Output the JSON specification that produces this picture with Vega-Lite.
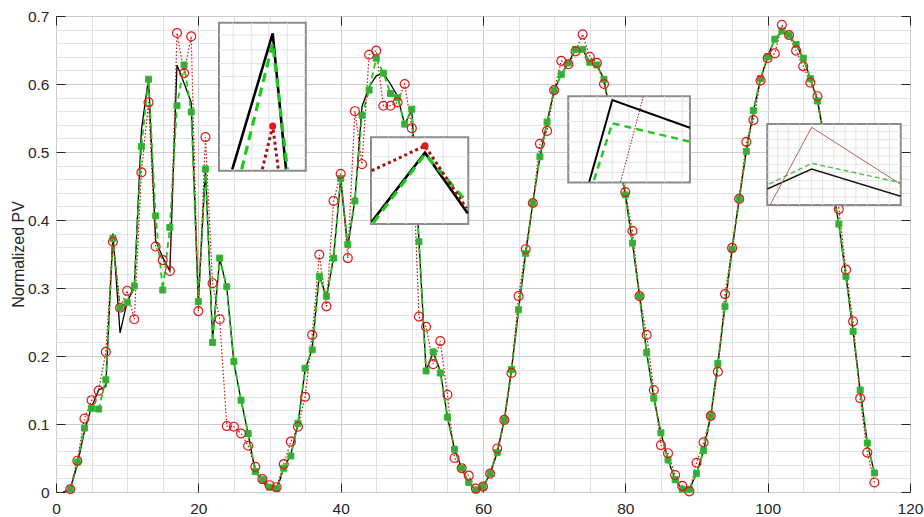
{
  "$schema": "https://vega.github.io/schema/vega-lite/v6.json",
  "width": 854,
  "height": 476,
  "autosize": "none",
  "padding": {"left": 56, "top": 16, "right": 14, "bottom": 25},
  "background": "white",
  "config": {
    "view": {"stroke": "#262626", "strokeWidth": 1},
    "font": "Liberation Sans",
    "axis": {
      "labelFont": "Liberation Sans",
      "labelFontSize": 15.5,
      "labelColor": "#262626",
      "labelFlush": false,
      "labelOverlap": false,
      "titleFont": "Liberation Sans",
      "titleFontSize": 16,
      "titleFontWeight": "normal",
      "titleColor": "#262626"
    }
  },
  "datasets": {
    "pv": [
      {"x": 1, "a": 0.000, "g": null, "r": null},
      {"x": 2, "a": 0.004, "g": 0.004, "r": 0.004},
      {"x": 3, "a": 0.040, "g": 0.044, "r": 0.046},
      {"x": 4, "a": 0.090, "g": 0.094, "r": 0.108},
      {"x": 5, "a": 0.125, "g": 0.123, "r": 0.135},
      {"x": 6, "a": 0.150, "g": 0.122, "r": 0.149},
      {"x": 7, "a": 0.155, "g": 0.165, "r": 0.206},
      {"x": 8, "a": 0.380, "g": 0.373, "r": 0.368},
      {"x": 9, "a": 0.234, "g": 0.271, "r": 0.271},
      {"x": 10, "a": 0.280, "g": 0.279, "r": 0.296},
      {"x": 11, "a": 0.300, "g": 0.303, "r": 0.254},
      {"x": 12, "a": 0.532, "g": 0.508, "r": 0.470},
      {"x": 13, "a": 0.609, "g": 0.607, "r": 0.573},
      {"x": 14, "a": 0.370, "g": 0.406, "r": 0.361},
      {"x": 15, "a": 0.345, "g": 0.297, "r": 0.341},
      {"x": 16, "a": 0.325, "g": 0.389, "r": 0.325},
      {"x": 17, "a": 0.628, "g": 0.568, "r": 0.675},
      {"x": 18, "a": 0.601, "g": 0.628, "r": 0.616},
      {"x": 19, "a": 0.573, "g": 0.559, "r": 0.670},
      {"x": 20, "a": 0.280, "g": 0.280, "r": 0.266},
      {"x": 21, "a": 0.475, "g": 0.475, "r": 0.522},
      {"x": 22, "a": 0.225, "g": 0.220, "r": 0.307},
      {"x": 23, "a": 0.344, "g": 0.344, "r": 0.254},
      {"x": 24, "a": 0.300, "g": 0.302, "r": 0.097},
      {"x": 25, "a": 0.190, "g": 0.192, "r": 0.096},
      {"x": 26, "a": 0.135, "g": 0.135, "r": 0.086},
      {"x": 27, "a": 0.086, "g": 0.086, "r": 0.068},
      {"x": 28, "a": 0.030, "g": 0.030, "r": 0.037},
      {"x": 29, "a": 0.016, "g": 0.018, "r": 0.019},
      {"x": 30, "a": 0.004, "g": 0.007, "r": 0.010},
      {"x": 31, "a": 0.003, "g": 0.005, "r": 0.007},
      {"x": 32, "a": 0.035, "g": 0.035, "r": 0.041},
      {"x": 33, "a": 0.055, "g": 0.053, "r": 0.074},
      {"x": 34, "a": 0.100, "g": 0.101, "r": 0.096},
      {"x": 35, "a": 0.180, "g": 0.182, "r": 0.140},
      {"x": 36, "a": 0.210, "g": 0.209, "r": 0.231},
      {"x": 37, "a": 0.320, "g": 0.317, "r": 0.349},
      {"x": 38, "a": 0.285, "g": 0.288, "r": 0.273},
      {"x": 39, "a": 0.345, "g": 0.344, "r": 0.428},
      {"x": 40, "a": 0.460, "g": 0.461, "r": 0.468},
      {"x": 41, "a": 0.360, "g": 0.364, "r": 0.344},
      {"x": 42, "a": 0.430, "g": 0.428, "r": 0.560},
      {"x": 43, "a": 0.567, "g": 0.554, "r": 0.482},
      {"x": 44, "a": 0.596, "g": 0.591, "r": 0.643},
      {"x": 45, "a": 0.612, "g": 0.638, "r": 0.649},
      {"x": 46, "a": 0.616, "g": 0.616, "r": 0.568},
      {"x": 47, "a": 0.600, "g": 0.586, "r": 0.568},
      {"x": 48, "a": 0.582, "g": 0.580, "r": 0.573},
      {"x": 49, "a": 0.540, "g": 0.541, "r": 0.600},
      {"x": 50, "a": 0.562, "g": 0.563, "r": 0.535},
      {"x": 51, "a": 0.370, "g": 0.368, "r": 0.258},
      {"x": 52, "a": 0.178, "g": 0.178, "r": 0.243},
      {"x": 53, "a": 0.206, "g": 0.206, "r": 0.188},
      {"x": 54, "a": 0.178, "g": 0.175, "r": 0.222},
      {"x": 55, "a": 0.110, "g": 0.110, "r": 0.143},
      {"x": 56, "a": 0.063, "g": 0.063, "r": 0.050},
      {"x": 57, "a": 0.035, "g": 0.035, "r": 0.035},
      {"x": 58, "a": 0.013, "g": 0.014, "r": 0.024},
      {"x": 59, "a": 0.002, "g": 0.003, "r": 0.005},
      {"x": 60, "a": 0.007, "g": 0.008, "r": 0.008},
      {"x": 61, "a": 0.027, "g": 0.027, "r": 0.027},
      {"x": 62, "a": 0.058, "g": 0.058, "r": 0.064},
      {"x": 63, "a": 0.106, "g": 0.106, "r": 0.106},
      {"x": 64, "a": 0.180, "g": 0.180, "r": 0.175},
      {"x": 65, "a": 0.268, "g": 0.268, "r": 0.288},
      {"x": 66, "a": 0.351, "g": 0.351, "r": 0.357},
      {"x": 67, "a": 0.425, "g": 0.425, "r": 0.425},
      {"x": 68, "a": 0.493, "g": 0.493, "r": 0.512},
      {"x": 69, "a": 0.544, "g": 0.544, "r": 0.531},
      {"x": 70, "a": 0.591, "g": 0.591, "r": 0.591},
      {"x": 71, "a": 0.614, "g": 0.614, "r": 0.634},
      {"x": 72, "a": 0.631, "g": 0.631, "r": 0.629},
      {"x": 73, "a": 0.651, "g": 0.651, "r": 0.648},
      {"x": 74, "a": 0.651, "g": 0.651, "r": 0.673},
      {"x": 75, "a": 0.632, "g": 0.632, "r": 0.640},
      {"x": 76, "a": 0.628, "g": 0.628, "r": 0.631},
      {"x": 77, "a": 0.607, "g": 0.607, "r": 0.600},
      {"x": 78, "a": 0.550, "g": 0.550, "r": 0.552},
      {"x": 79, "a": 0.492, "g": 0.492, "r": 0.495},
      {"x": 80, "a": 0.437, "g": 0.437, "r": 0.441},
      {"x": 81, "a": 0.366, "g": 0.366, "r": 0.384},
      {"x": 82, "a": 0.288, "g": 0.288, "r": 0.288},
      {"x": 83, "a": 0.205, "g": 0.205, "r": 0.231},
      {"x": 84, "a": 0.138, "g": 0.138, "r": 0.150},
      {"x": 85, "a": 0.087, "g": 0.087, "r": 0.069},
      {"x": 86, "a": 0.047, "g": 0.047, "r": 0.057},
      {"x": 87, "a": 0.018, "g": 0.018, "r": 0.025},
      {"x": 88, "a": 0.004, "g": 0.004, "r": 0.009},
      {"x": 89, "a": 0.004, "g": 0.004, "r": 0.001},
      {"x": 90, "a": 0.027, "g": 0.027, "r": 0.043},
      {"x": 91, "a": 0.061, "g": 0.061, "r": 0.073},
      {"x": 92, "a": 0.112, "g": 0.112, "r": 0.112},
      {"x": 93, "a": 0.189, "g": 0.189, "r": 0.177},
      {"x": 94, "a": 0.273, "g": 0.273, "r": 0.291},
      {"x": 95, "a": 0.357, "g": 0.357, "r": 0.359},
      {"x": 96, "a": 0.431, "g": 0.431, "r": 0.431},
      {"x": 97, "a": 0.501, "g": 0.501, "r": 0.515},
      {"x": 98, "a": 0.561, "g": 0.561, "r": 0.547},
      {"x": 99, "a": 0.608, "g": 0.608, "r": 0.605},
      {"x": 100, "a": 0.640, "g": 0.640, "r": 0.638},
      {"x": 101, "a": 0.666, "g": 0.666, "r": 0.645},
      {"x": 102, "a": 0.676, "g": 0.678, "r": 0.687},
      {"x": 103, "a": 0.672, "g": 0.672, "r": 0.672},
      {"x": 104, "a": 0.658, "g": 0.658, "r": 0.649},
      {"x": 105, "a": 0.638, "g": 0.638, "r": 0.626},
      {"x": 106, "a": 0.608, "g": 0.608, "r": 0.602},
      {"x": 107, "a": 0.575, "g": 0.575, "r": 0.582},
      {"x": 108, "a": 0.515, "g": 0.515, "r": 0.520},
      {"x": 109, "a": 0.455, "g": 0.455, "r": 0.470},
      {"x": 110, "a": 0.394, "g": 0.394, "r": 0.416},
      {"x": 111, "a": 0.317, "g": 0.317, "r": 0.327},
      {"x": 112, "a": 0.236, "g": 0.236, "r": 0.251},
      {"x": 113, "a": 0.150, "g": 0.150, "r": 0.138},
      {"x": 114, "a": 0.072, "g": 0.072, "r": 0.058},
      {"x": 115, "a": 0.028, "g": 0.028, "r": 0.014}
    ],
    "boxes": [
      {"k": "i1", "x": 22.9, "x2": 35.1, "y": 0.4725, "y2": 0.690},
      {"k": "i2", "x": 44.26, "x2": 57.93, "y": 0.394, "y2": 0.5216},
      {"k": "i3", "x": 71.98, "x2": 89.08, "y": 0.455, "y2": 0.582},
      {"k": "i4", "x": 99.94, "x2": 118.7, "y": 0.422, "y2": 0.541}
    ],
    "boxgrid": [
      {"x": 24.9, "x2": 24.9, "y": 0.4725, "y2": 0.690},
      {"x": 27.5, "x2": 27.5, "y": 0.4725, "y2": 0.690},
      {"x": 29.9, "x2": 29.9, "y": 0.4725, "y2": 0.690},
      {"x": 32.5, "x2": 32.5, "y": 0.4725, "y2": 0.690},
      {"x": 22.9, "x2": 35.1, "y": 0.491, "y2": 0.491},
      {"x": 22.9, "x2": 35.1, "y": 0.510, "y2": 0.510},
      {"x": 22.9, "x2": 35.1, "y": 0.530, "y2": 0.530},
      {"x": 22.9, "x2": 35.1, "y": 0.550, "y2": 0.550},
      {"x": 22.9, "x2": 35.1, "y": 0.571, "y2": 0.571},
      {"x": 22.9, "x2": 35.1, "y": 0.591, "y2": 0.591},
      {"x": 22.9, "x2": 35.1, "y": 0.611, "y2": 0.611},
      {"x": 22.9, "x2": 35.1, "y": 0.630, "y2": 0.630},
      {"x": 22.9, "x2": 35.1, "y": 0.650, "y2": 0.650},
      {"x": 22.9, "x2": 35.1, "y": 0.672, "y2": 0.672},
      {"x": 46.7, "x2": 46.7, "y": 0.394, "y2": 0.5216},
      {"x": 49.2, "x2": 49.2, "y": 0.394, "y2": 0.5216},
      {"x": 51.85, "x2": 51.85, "y": 0.394, "y2": 0.5216},
      {"x": 54.4, "x2": 54.4, "y": 0.394, "y2": 0.5216},
      {"x": 44.26, "x2": 57.93, "y": 0.429, "y2": 0.429},
      {"x": 44.26, "x2": 57.93, "y": 0.461, "y2": 0.461},
      {"x": 44.26, "x2": 57.93, "y": 0.493, "y2": 0.493},
      {"x": 74.0, "x2": 74.0, "y": 0.455, "y2": 0.582},
      {"x": 76.0, "x2": 76.0, "y": 0.455, "y2": 0.582},
      {"x": 78.17, "x2": 78.17, "y": 0.455, "y2": 0.582},
      {"x": 80.5, "x2": 80.5, "y": 0.455, "y2": 0.582},
      {"x": 83.0, "x2": 83.0, "y": 0.455, "y2": 0.582},
      {"x": 85.5, "x2": 85.5, "y": 0.455, "y2": 0.582},
      {"x": 88.0, "x2": 88.0, "y": 0.455, "y2": 0.582},
      {"x": 71.98, "x2": 89.08, "y": 0.470, "y2": 0.470},
      {"x": 71.98, "x2": 89.08, "y": 0.485, "y2": 0.485},
      {"x": 71.98, "x2": 89.08, "y": 0.500, "y2": 0.500},
      {"x": 71.98, "x2": 89.08, "y": 0.515, "y2": 0.515},
      {"x": 71.98, "x2": 89.08, "y": 0.530, "y2": 0.530},
      {"x": 71.98, "x2": 89.08, "y": 0.545, "y2": 0.545},
      {"x": 71.98, "x2": 89.08, "y": 0.560, "y2": 0.560},
      {"x": 71.98, "x2": 89.08, "y": 0.575, "y2": 0.575},
      {"x": 101.4, "x2": 101.4, "y": 0.422, "y2": 0.541},
      {"x": 102.9, "x2": 102.9, "y": 0.422, "y2": 0.541},
      {"x": 104.5, "x2": 104.5, "y": 0.422, "y2": 0.541},
      {"x": 106.18, "x2": 106.18, "y": 0.422, "y2": 0.541},
      {"x": 107.7, "x2": 107.7, "y": 0.422, "y2": 0.541},
      {"x": 109.3, "x2": 109.3, "y": 0.422, "y2": 0.541},
      {"x": 110.9, "x2": 110.9, "y": 0.422, "y2": 0.541},
      {"x": 112.4, "x2": 112.4, "y": 0.422, "y2": 0.541},
      {"x": 114.0, "x2": 114.0, "y": 0.422, "y2": 0.541},
      {"x": 115.6, "x2": 115.6, "y": 0.422, "y2": 0.541},
      {"x": 117.1, "x2": 117.1, "y": 0.422, "y2": 0.541},
      {"x": 99.94, "x2": 118.7, "y": 0.434, "y2": 0.434},
      {"x": 99.94, "x2": 118.7, "y": 0.446, "y2": 0.446},
      {"x": 99.94, "x2": 118.7, "y": 0.458, "y2": 0.458},
      {"x": 99.94, "x2": 118.7, "y": 0.470, "y2": 0.470},
      {"x": 99.94, "x2": 118.7, "y": 0.482, "y2": 0.482},
      {"x": 99.94, "x2": 118.7, "y": 0.494, "y2": 0.494},
      {"x": 99.94, "x2": 118.7, "y": 0.506, "y2": 0.506},
      {"x": 99.94, "x2": 118.7, "y": 0.518, "y2": 0.518},
      {"x": 99.94, "x2": 118.7, "y": 0.530, "y2": 0.530}
    ],
    "zoomlines": [
      {"k": "i1", "s": "a", "x": 24.77, "y": 0.4746},
      {"k": "i1", "s": "a", "x": 30.45, "y": 0.6745},
      {"k": "i1", "s": "a", "x": 32.32, "y": 0.4746},
      {"k": "i1", "s": "g", "x": 26.09, "y": 0.4746},
      {"k": "i1", "s": "g", "x": 30.45, "y": 0.660},
      {"k": "i1", "s": "g", "x": 32.5, "y": 0.4746},
      {"k": "i1", "s": "r", "x": 28.99, "y": 0.4746},
      {"k": "i1", "s": "r", "x": 30.45, "y": 0.538},
      {"k": "i1", "s": "r", "x": 31.24, "y": 0.4746},
      {"k": "i2", "s": "a", "x": 44.36, "y": 0.3975},
      {"k": "i2", "s": "a", "x": 51.85, "y": 0.499},
      {"k": "i2", "s": "a", "x": 57.85, "y": 0.410},
      {"k": "i2", "s": "g", "x": 44.59, "y": 0.396},
      {"k": "i2", "s": "g", "x": 51.85, "y": 0.497},
      {"k": "i2", "s": "g", "x": 57.7, "y": 0.427},
      {"k": "i2", "s": "r", "x": 44.36, "y": 0.4725},
      {"k": "i2", "s": "r", "x": 51.85, "y": 0.509},
      {"k": "i2", "s": "r", "x": 57.7, "y": 0.417},
      {"k": "i3", "s": "a", "x": 74.93, "y": 0.4563},
      {"k": "i3", "s": "a", "x": 78.17, "y": 0.5765},
      {"k": "i3", "s": "a", "x": 89.08, "y": 0.5357},
      {"k": "i3", "s": "g", "x": 75.6, "y": 0.4588},
      {"k": "i3", "s": "g", "x": 78.17, "y": 0.5422},
      {"k": "i3", "s": "g", "x": 89.08, "y": 0.5152},
      {"k": "i3", "s": "r", "x": 79.35, "y": 0.4563},
      {"k": "i3", "s": "r", "x": 82.52, "y": 0.5813},
      {"k": "i4", "s": "a", "x": 99.94, "y": 0.4456},
      {"k": "i4", "s": "a", "x": 106.18, "y": 0.475},
      {"k": "i4", "s": "a", "x": 118.69, "y": 0.4348},
      {"k": "i4", "s": "g", "x": 100.2, "y": 0.4529},
      {"k": "i4", "s": "g", "x": 106.18, "y": 0.4834},
      {"k": "i4", "s": "g", "x": 118.69, "y": 0.4549},
      {"k": "i4", "s": "r", "x": 100.4, "y": 0.4235},
      {"k": "i4", "s": "r", "x": 106.18, "y": 0.5363},
      {"k": "i4", "s": "r", "x": 118.69, "y": 0.4525}
    ],
    "zoomdots": [
      {"k": "i1", "x": 30.45, "y": 0.538},
      {"k": "i2", "x": 51.85, "y": 0.509}
    ]
  },
  "layer": [
    {
      "description": "Measured PV (black) with the minor grid",
      "data": {"name": "pv"},
      "mark": {"type": "line", "color": "#000000", "strokeWidth": 1.3},
      "encoding": {
        "x": {"field": "x", "type": "quantitative", "scale": {"domain": [0, 120], "nice": false},
          "axis": {"orient": "bottom", "values": [0,5,10,15,20,25,30,35,40,45,50,55,60,65,70,75,80,85,90,95,100,105,110,115,120],
            "grid": true, "gridColor": "#e2e2e2", "labels": false, "ticks": false, "domain": false, "title": null}},
        "y": {"field": "a", "type": "quantitative", "scale": {"domain": [0, 0.7], "nice": false, "zero": false},
          "axis": {"orient": "left", "values": [0,0.02,0.04,0.06,0.08,0.1,0.12,0.14,0.16,0.18,0.2,0.22,0.24,0.26,0.28,0.3,0.32,0.34,0.36,0.38,0.4,0.42,0.44,0.46,0.48,0.5,0.52,0.54,0.56,0.58,0.6,0.62,0.64,0.66,0.68,0.7],
            "grid": true, "gridColor": "#e2e2e2", "labels": false, "ticks": false, "domain": false, "title": null}}
      }
    },
    {
      "description": "Forecast A (green dashed) with the labelled axes",
      "data": {"name": "pv"},
      "transform": [{"filter": "isValid(datum.g)"}],
      "mark": {"type": "line", "color": "#1ec81e", "strokeWidth": 1.8, "strokeDash": [6, 4]},
      "encoding": {
        "x": {"field": "x", "type": "quantitative", "scale": {"domain": [0, 120], "nice": false},
          "axis": {"orient": "bottom", "values": [0, 20, 40, 60, 80, 100, 120], "format": "d",
            "grid": true, "gridColor": "#cdcdcd", "ticks": false, "domain": false, "labelPadding": 9, "title": null}},
        "y": {"field": "g", "type": "quantitative", "scale": {"domain": [0, 0.7], "nice": false, "zero": false},
          "axis": {"orient": "left", "values": [0, 0.1, 0.2, 0.3, 0.4, 0.5, 0.6, 0.7], "format": "~g",
            "grid": true, "gridColor": "#cdcdcd", "ticks": false, "domain": false, "labelPadding": 7,
            "title": "Normalized PV", "titlePadding": 1}}
      }
    },
    {
      "description": "Forecast B (red dotted) with inward ticks on the bottom and left",
      "data": {"name": "pv"},
      "transform": [{"filter": "isValid(datum.r)"}],
      "mark": {"type": "line", "color": "#c41010", "strokeWidth": 1.2, "strokeDash": [1.5, 2]},
      "encoding": {
        "x": {"field": "x", "type": "quantitative", "scale": {"domain": [0, 120], "nice": false},
          "axis": {"orient": "bottom", "values": [0, 20, 40, 60, 80, 100, 120], "offset": -9, "tickSize": 9,
            "tickColor": "#262626", "labels": false, "grid": false, "domain": false, "title": null}},
        "y": {"field": "r", "type": "quantitative", "scale": {"domain": [0, 0.7], "nice": false, "zero": false},
          "axis": {"orient": "left", "values": [0, 0.1, 0.2, 0.3, 0.4, 0.5, 0.6, 0.7], "offset": -9, "tickSize": 9,
            "tickColor": "#262626", "labels": false, "grid": false, "domain": false, "title": null}}
      }
    },
    {
      "description": "Forecast A markers with inward ticks on the top and right",
      "data": {"name": "pv"},
      "transform": [{"filter": "isValid(datum.g)"}],
      "mark": {"type": "point", "shape": "square", "filled": true, "size": 36, "color": "#46a046", "stroke": "#1ec81e", "strokeWidth": 1, "opacity": 1},
      "encoding": {
        "x": {"field": "x", "type": "quantitative", "scale": {"domain": [0, 120], "nice": false},
          "axis": {"orient": "top", "values": [0, 20, 40, 60, 80, 100, 120], "offset": -9, "tickSize": 9,
            "tickColor": "#262626", "labels": false, "grid": false, "domain": false, "title": null}},
        "y": {"field": "g", "type": "quantitative", "scale": {"domain": [0, 0.7], "nice": false, "zero": false},
          "axis": {"orient": "right", "values": [0, 0.1, 0.2, 0.3, 0.4, 0.5, 0.6, 0.7], "offset": -9, "tickSize": 9,
            "tickColor": "#262626", "labels": false, "grid": false, "domain": false, "title": null}}
      }
    },
    {
      "description": "Forecast B markers",
      "data": {"name": "pv"},
      "transform": [{"filter": "isValid(datum.r)"}],
      "mark": {"type": "point", "shape": "circle", "filled": false, "size": 80, "stroke": "#e01818", "strokeWidth": 1.2, "opacity": 1},
      "encoding": {
        "x": {"field": "x", "type": "quantitative", "axis": null},
        "y": {"field": "r", "type": "quantitative", "axis": null}
      }
    },
    {
      "description": "Magnified detail panels",
      "data": {"name": "boxes"},
      "mark": {"type": "rect", "fill": "white", "stroke": "#8c8c8c", "strokeWidth": 2},
      "encoding": {
        "x": {"field": "x", "type": "quantitative", "axis": null},
        "x2": {"field": "x2"},
        "y": {"field": "y", "type": "quantitative", "axis": null},
        "y2": {"field": "y2"}
      }
    },
    {
      "data": {"name": "boxgrid"},
      "mark": {"type": "rule", "color": "#e4e4e4", "strokeWidth": 1},
      "encoding": {
        "x": {"field": "x", "type": "quantitative", "axis": null},
        "x2": {"field": "x2"},
        "y": {"field": "y", "type": "quantitative", "axis": null},
        "y2": {"field": "y2"}
      }
    },
    {
      "data": {"name": "zoomlines"},
      "transform": [{"filter": "(datum.k == 'i1' || datum.k == 'i2') && datum.s == 'a'"}],
      "mark": {"type": "line", "color": "#000000", "strokeWidth": 2.6},
      "encoding": {
        "x": {"field": "x", "type": "quantitative", "axis": null},
        "y": {"field": "y", "type": "quantitative", "axis": null},
        "detail": {"field": "k"}
      }
    },
    {
      "data": {"name": "zoomlines"},
      "transform": [{"filter": "(datum.k == 'i1' || datum.k == 'i2') && datum.s == 'g'"}],
      "mark": {"type": "line", "color": "#1ec81e", "strokeWidth": 3.2, "strokeDash": [9, 6]},
      "encoding": {
        "x": {"field": "x", "type": "quantitative", "axis": null},
        "y": {"field": "y", "type": "quantitative", "axis": null},
        "detail": {"field": "k"}
      }
    },
    {
      "data": {"name": "zoomlines"},
      "transform": [{"filter": "(datum.k == 'i1' || datum.k == 'i2') && datum.s == 'r'"}],
      "mark": {"type": "line", "color": "#a01414", "strokeWidth": 3, "strokeDash": [3, 3]},
      "encoding": {
        "x": {"field": "x", "type": "quantitative", "axis": null},
        "y": {"field": "y", "type": "quantitative", "axis": null},
        "detail": {"field": "k"}
      }
    },
    {
      "data": {"name": "zoomlines"},
      "transform": [{"filter": "datum.k == 'i3' && datum.s == 'a'"}],
      "mark": {"type": "line", "color": "#000000", "strokeWidth": 2},
      "encoding": {
        "x": {"field": "x", "type": "quantitative", "axis": null},
        "y": {"field": "y", "type": "quantitative", "axis": null}
      }
    },
    {
      "data": {"name": "zoomlines"},
      "transform": [{"filter": "datum.k == 'i3' && datum.s == 'g'"}],
      "mark": {"type": "line", "color": "#1ec81e", "strokeWidth": 2.4, "strokeDash": [7, 5]},
      "encoding": {
        "x": {"field": "x", "type": "quantitative", "axis": null},
        "y": {"field": "y", "type": "quantitative", "axis": null}
      }
    },
    {
      "data": {"name": "zoomlines"},
      "transform": [{"filter": "datum.k == 'i3' && datum.s == 'r'"}],
      "mark": {"type": "line", "color": "#a01414", "strokeWidth": 1, "strokeDash": [1.5, 1.5]},
      "encoding": {
        "x": {"field": "x", "type": "quantitative", "axis": null},
        "y": {"field": "y", "type": "quantitative", "axis": null}
      }
    },
    {
      "data": {"name": "zoomlines"},
      "transform": [{"filter": "datum.k == 'i4' && datum.s == 'a'"}],
      "mark": {"type": "line", "color": "#1a1a1a", "strokeWidth": 1.5},
      "encoding": {
        "x": {"field": "x", "type": "quantitative", "axis": null},
        "y": {"field": "y", "type": "quantitative", "axis": null}
      }
    },
    {
      "data": {"name": "zoomlines"},
      "transform": [{"filter": "datum.k == 'i4' && datum.s == 'g'"}],
      "mark": {"type": "line", "color": "#4cc04c", "strokeWidth": 1.4, "strokeDash": [5, 3]},
      "encoding": {
        "x": {"field": "x", "type": "quantitative", "axis": null},
        "y": {"field": "y", "type": "quantitative", "axis": null}
      }
    },
    {
      "data": {"name": "zoomlines"},
      "transform": [{"filter": "datum.k == 'i4' && datum.s == 'r'"}],
      "mark": {"type": "line", "color": "#b86060", "strokeWidth": 1},
      "encoding": {
        "x": {"field": "x", "type": "quantitative", "axis": null},
        "y": {"field": "y", "type": "quantitative", "axis": null}
      }
    },
    {
      "data": {"name": "zoomdots"},
      "mark": {"type": "point", "shape": "circle", "filled": true, "size": 50, "color": "#e01818", "opacity": 1},
      "encoding": {
        "x": {"field": "x", "type": "quantitative", "axis": null},
        "y": {"field": "y", "type": "quantitative", "axis": null}
      }
    }
  ],
  "resolve": {
    "scale": {"x": "shared", "y": "shared"},
    "axis": {"x": "independent", "y": "independent"}
  }
}
